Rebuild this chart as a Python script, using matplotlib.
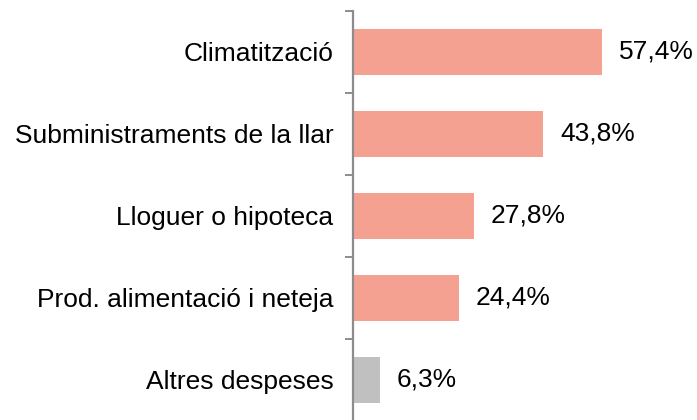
import matplotlib.pyplot as plt

# Categories (top to bottom) and their shares (%)
categories = [
    "Climatització",
    "Subministraments de la llar",
    "Lloguer o hipoteca",
    "Prod. alimentació i neteja",
    "Altres despeses"]
values = [57.4, 43.8, 27.8, 24.4, 6.3]
labels = ["57,4%", "43,8%", "27,8%", "24,4%", "6,3%"]
colors = ["#F5A192", "#F5A192", "#F5A192", "#F5A192", "#C0C0C0"]

plt.rcParams['font.family'] = ['Liberation Sans', 'DejaVu Sans']

fig = plt.figure(figsize=(6.97, 4.2), dpi=100)
ax = fig.add_axes([0.5065, -0.002, 0.4935, 0.976])

pos = list(range(len(categories)))
ax.barh(pos, values, height=0.56, color=colors)

for p, v, lab in zip(pos, values, labels):
    ax.annotate(lab, (v, p), xytext=(12, 0), textcoords='offset points',
                va='center', ha='left', fontsize=19, color='black')

ax.set_ylim(len(categories) - 0.5, -0.5)
ax.set_xlim(0, 79.2)

# Ticks at category boundaries, labels centered on bars
ax.set_yticks([i - 0.5 for i in range(len(categories) + 1)])
ax.set_yticklabels([])
ax.set_yticks(pos, minor=True)
ax.set_yticklabels(categories, minor=True, fontsize=19)
ax.tick_params(axis='y', which='major', direction='out', length=6,
               width=1.4, color='#8C8C8C')
ax.tick_params(axis='y', which='minor', length=0, pad=14)
ax.set_xticks([])

for side in ['top', 'right', 'bottom']:
    ax.spines[side].set_visible(False)
ax.spines['left'].set_color('#8C8C8C')
ax.spines['left'].set_linewidth(1.6)

fig.savefig('out.png', dpi=100)
